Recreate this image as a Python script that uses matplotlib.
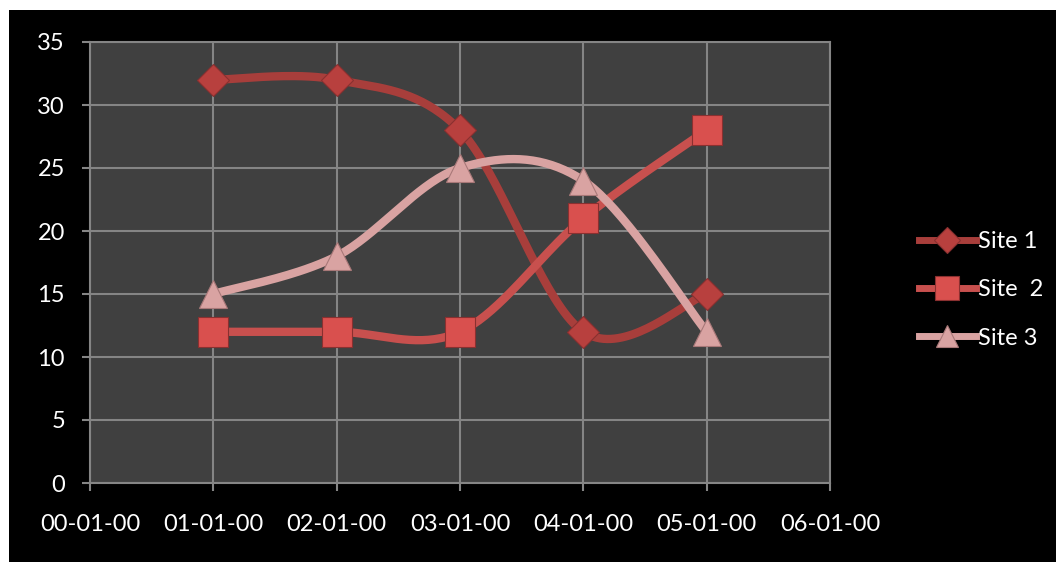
import matplotlib.pyplot as plt
import numpy as np
from matplotlib.patches import Rectangle

plt.rcParams['font.family'] = ['Lato', 'DejaVu Sans']

# data
months = [1, 2, 3, 4, 5]
site1 = [32, 32, 28, 12, 15]
site2 = [12, 12, 12, 21, 28]
site3 = [15, 18, 25, 24, 12]
xlabels = ['00-01-00', '01-01-00', '02-01-00', '03-01-00', '04-01-00', '05-01-00', '06-01-00']
names = ['Site 1', 'Site  2', 'Site 3']


def smooth(xs, ys, n=40):
    # excel-ish smoothed line (catmull-rom bezier)
    p = np.column_stack([xs, ys]).astype(float)
    p = np.vstack([p[0], p, p[-1]])
    out = []
    t = np.linspace(0, 1, n)[:, None]
    for i in range(1, len(p) - 2):
        b0 = p[i]
        b3 = p[i + 1]
        b1 = b0 + (p[i + 1] - p[i - 1]) / 6
        b2 = b3 - (p[i + 2] - p[i]) / 6
        seg = (1 - t) ** 3 * b0 + 3 * (1 - t) ** 2 * t * b1 + 3 * (1 - t) * t ** 2 * b2 + t ** 3 * b3
        out.append(seg)
    out = np.vstack(out)
    return out[:, 0], out[:, 1]


fig = plt.figure(figsize=(10.56, 5.62), dpi=100)
fig.patch.set_facecolor('white')
fig.patches.append(Rectangle((9 / 1056, 0), 1, (562 - 10) / 562, transform=fig.transFigure,
                             facecolor='black', edgecolor='none', zorder=-10))

ax = fig.add_axes([90 / 1056, 79 / 562, 740 / 1056, 441 / 562])
ax.set_facecolor('#404040')

cols = ['#A83E3B', '#C8504E', '#D9A3A2']
mcols = ['#B8403E', '#D9504E', '#D9A3A2']
mecs = ['#8a3030', '#8a3030', '#a87878']
mks = ['D', 's', '^']
msz = [16, 21, 20]
lines = []
for i, ys in enumerate([site1, site2, site3]):
    sx, sy = smooth(months, ys)
    ax.plot(sx, sy, color=cols[i], lw=6, solid_capstyle='round', zorder=3 + i * 0.1)
for i, ys in enumerate([site1, site2, site3]):
    ax.plot(months, ys, ls='none', marker=mks[i], ms=msz[i], color=mcols[i],
            mec=mecs[i], mew=0.8, zorder=5)
    h, = ax.plot([], [], color=cols[i], lw=5, marker=mks[i], ms=msz[i] * 0.8,
                 mfc=mcols[i], mec=mecs[i], mew=0.8)
    lines.append(h)

ax.set_xlim(0, 6)
ax.set_ylim(0, 35)
ax.set_xticks(range(7))
ax.set_xticklabels(xlabels)
ax.set_yticks(range(0, 36, 5))
ax.grid(True, color='#858585', lw=1.5)
ax.set_axisbelow(True)
for s in ax.spines.values():
    s.set_color('#858585')
    s.set_linewidth(1.5)
ax.tick_params(colors='#858585', width=1.5, length=6)
ax.tick_params(axis='x', labelcolor='white', labelsize=17, pad=16)
ax.tick_params(axis='y', labelcolor='white', labelsize=17, pad=12)

leg = fig.legend(lines, names, loc='center left', bbox_to_anchor=(919 / 1056, 1 - 290 / 562),
                 frameon=False, fontsize=17, labelcolor='white', handlelength=2.4,
                 handletextpad=0.1, labelspacing=1.15, borderpad=0, borderaxespad=0)

fig.savefig('out.png', dpi=100, facecolor=fig.get_facecolor())
